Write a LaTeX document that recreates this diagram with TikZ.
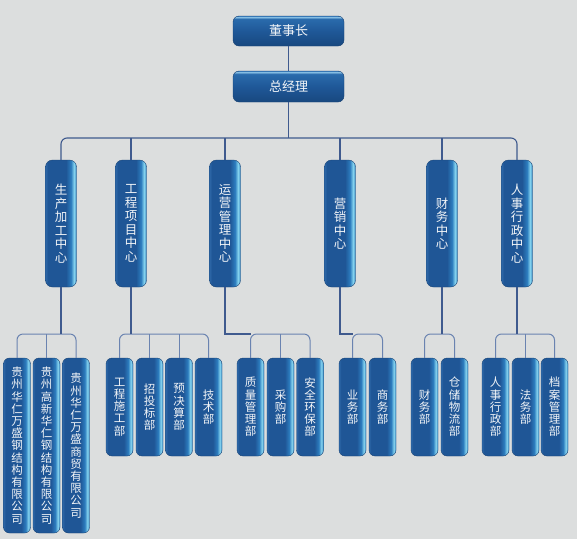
\documentclass[tikz,border=0pt]{standalone}
\usetikzlibrary{calc}
\usepackage{fontspec}
\newfontfamily\cjk{Noto Sans CJK SC}
\definecolor{bgc}{HTML}{DCDEDE}
\definecolor{bA}{HTML}{2E68A8}
\definecolor{bB}{HTML}{1F5696}
\definecolor{bC}{HTML}{2C7CBE}
\definecolor{bD}{HTML}{84D2EE}
\definecolor{bE}{HTML}{3A8CC6}
\definecolor{tA}{HTML}{18487F}
\definecolor{tB}{HTML}{1F5898}
\definecolor{tC}{HTML}{2A6BAC}
\definecolor{tD}{HTML}{8CC4E8}
\definecolor{tE}{HTML}{3C7FBF}
\definecolor{edge}{HTML}{194374}
\definecolor{lineA}{HTML}{3F5A8E}
\definecolor{lineB}{HTML}{6A83B0}
\definecolor{txt}{HTML}{F2F5F8}
\pgfdeclarehorizontalshading{vshade}{100bp}{color(0bp)=(bA); color(25bp)=(bA); color(29bp)=(bB); color(58bp)=(bB); color(66bp)=(bC); color(71bp)=(bD); color(75bp)=(bE); color(100bp)=(bE)}
\pgfdeclareverticalshading{hshade}{100bp}{color(0bp)=(tA); color(25bp)=(tA); color(50bp)=(tB); color(70bp)=(tC); color(73.5bp)=(tD); color(75bp)=(tE); color(100bp)=(tE)}
\begin{document}
\begin{tikzpicture}[x=1pt,y=-1pt,
  topbox/.style={rectangle, rounded corners=6pt, minimum width=111pt, inner sep=0pt,
    shade, shading=hshade, draw=edge, line width=0.4pt, text=txt,
    font=\cjk\fontsize{13}{14}\selectfont},
  cbox/.style={rectangle, rounded corners=7pt, minimum width=31pt, minimum height=127pt, inner sep=0pt,
    shade, shading=vshade, draw=edge, line width=0.4pt, text=txt, align=center,
    font=\cjk\fontsize{12.5}{13.5}\selectfont},
  leaf/.style={rectangle, rounded corners=6pt, minimum width=27pt, inner sep=0pt,
    shade, shading=vshade, draw=edge, line width=0.4pt, text=txt, align=center,
    font=\cjk\fontsize{11.5}{12.2}\selectfont},
  short/.style={leaf, minimum height=98pt},
  long/.style={leaf, minimum height=175pt},
  connA/.style={draw=lineA, line width=1.1pt},
  connB/.style={draw=lineB, line width=1pt, rounded corners=6pt}
]
\fill[bgc] (0,0) rectangle (577,539);
\useasboundingbox (0,0) rectangle (577,539);

% top
\node[topbox, minimum height=30pt] (b1) at (288.5,31) {董事长};
\node[topbox, minimum height=31pt] (b2) at (288.5,86.5) {总经理};

% centers
\node[cbox] (c1) at (61,223.5) {生\\产\\加\\工\\中\\心};
\node[cbox] (c2) at (131,223.5) {工\\程\\项\\目\\中\\心};
\node[cbox] (c3) at (225,223.5) {运\\营\\管\\理\\中\\心};
\node[cbox] (c4) at (340,223.5) {营\\销\\中\\心};
\node[cbox] (c5) at (442,223.5) {财\\务\\中\\心};
\node[cbox] (c6) at (517,223.5) {人\\事\\行\\政\\中\\心};

% leaves
\node[long] (l11) at (17,445.5) {贵\\州\\华\\仁\\万\\盛\\钢\\结\\构\\有\\限\\公\\司};
\node[long] (l12) at (46.5,445.5) {贵\\州\\高\\新\\华\\仁\\钢\\结\\构\\有\\限\\公\\司};
\node[long] (l13) at (76,445.5) {贵\\州\\华\\仁\\万\\盛\\商\\贸\\有\\限\\公\\司};

\node[short] (l21) at (119.5,407) {工\\程\\施\\工\\部};
\node[short] (l22) at (149.5,407) {招\\投\\标\\部};
\node[short] (l23) at (179,407) {预\\决\\算\\部};
\node[short] (l24) at (208.5,407) {技\\术\\部};

\node[short] (l31) at (250.5,407) {质\\量\\管\\理\\部};
\node[short] (l32) at (280.5,407) {采\\购\\部};
\node[short] (l33) at (310,407) {安\\全\\环\\保\\部};

\node[short] (l41) at (352.5,407) {业\\务\\部};
\node[short] (l42) at (382.5,407) {商\\务\\部};

\node[short] (l51) at (424.5,407) {财\\务\\部};
\node[short] (l52) at (454.5,407) {仓\\储\\物\\流\\部};

\node[short] (l61) at (495.5,407) {人\\事\\行\\政\\部};
\node[short] (l62) at (525.5,407) {法\\务\\部};
\node[short] (l63) at (554.5,407) {档\\案\\管\\理\\部};

% top connectors
\coordinate (bus) at (288.5,138);
\draw[connA] (b1.south) -- (b2.north);
\draw[connA] (b2.south) -- (bus);
\draw[connA, rounded corners=6pt] (c1.north) |- (bus) -| (c6.north);
\foreach \c in {c2,c3,c4,c5} \draw[connA] (\c.north) -- (\c.north |- bus);

% group buses
\coordinate (g) at (0,334);
\draw[connB] (l11.north) |- (l12.north |- g) -| (l13.north);
\draw[connB] (l12.north) -- (l12.north |- g);
\draw[connA] (c1.south) -- (c1.south |- g);

\draw[connB] (l21.north) |- (l22.north |- g) -| (l24.north);
\draw[connB] (l22.north) -- (l22.north |- g);
\draw[connB] (l23.north) -- (l23.north |- g);
\draw[connA] (c2.south) -- (c2.south |- g);

\draw[connB] (l31.north) |- (l32.north |- g) -| (l33.north);
\draw[connB] (l32.north) -- (l32.north |- g);
\draw[connA] (c3.south) |- (l31.north |- g);

\draw[connB] (l41.north) |- ($(l41.north |- g)!.5!(l42.north |- g)$) -| (l42.north);
\draw[connA] (c4.south) |- (l41.north |- g);

\draw[connB] (l51.north) |- (c5.south |- g) -| (l52.north);
\draw[connA] (c5.south) -- (c5.south |- g);

\draw[connB] (l61.north) |- (l62.north |- g) -| (l63.north);
\draw[connB] (l62.north) -- (l62.north |- g);
\draw[connA] (c6.south) -- (c6.south |- g);
\end{tikzpicture}
\end{document}
